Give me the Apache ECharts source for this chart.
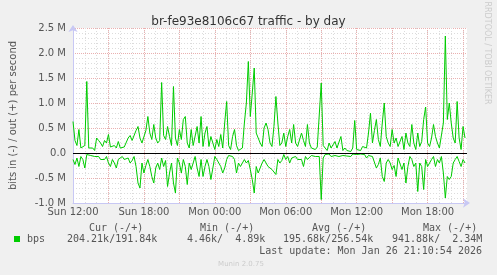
<!DOCTYPE html>
<html><head><meta charset="utf-8">
<script src="https://cdn.jsdelivr.net/npm/echarts@6/dist/echarts.min.js"></script>
<style>html,body{margin:0;padding:0;background:#f0f0f0}#c{width:497px;height:275px}</style>
</head><body><div id="c"></div>
<script>
// time axis: hours since Sun 12:00, one sample every 10 minutes
const stepHours = 1 / 6;
const xLabels = ['Sun 12:00', 'Sun 18:00', 'Mon 00:00', 'Mon 06:00', 'Mon 12:00', 'Mon 18:00'];
// out (+) in Mbit/s
const outBps = [
  0.63,0.25,0.15,0.47,0.1,0.1,0.15,1.43,0.1,0.06,
  0.1,0.05,0.3,0.25,0.2,0.13,0.25,0.2,0.37,0.12,
  0.1,0.15,0.1,0.23,0.1,0.08,0.12,0.1,0.3,0.35,
  0.25,0.27,0.45,0.53,0.3,0.2,0.2,0.45,0.73,0.4,
  0.27,0.57,0.3,0.2,0.25,1.41,0.35,0.27,0.53,0.33,
  0.15,1.33,0.3,0.15,0.47,0.27,0.67,0.73,0.2,0.1,
  0.47,0.15,0.12,0.53,0.2,0.73,0.13,0.4,0.53,0.13,
  0.33,0.2,0.07,0.27,0.13,0.37,0.1,0.6,1.03,0.15,
  0.07,0.33,0.47,0.15,0.05,0.03,0.1,0.6,1.0,1.83,
  0.73,1.2,1.7,0.4,0.3,0.2,0.13,0.5,0.6,0.47,
  0.2,0.13,0.53,1.13,0.6,0.15,0.2,0.4,0.13,0.33,
  0.47,0.2,0.57,0.2,0.13,0.15,0.4,0.25,0.13,0.57,
  0.2,0.1,0.1,0.07,0.12,0.15,1.4,0.15,0.1,0.05,
  0.2,0.1,0.07,0.23,0.1,0.1,0.33,0.05,0.1,0.05,
  0.08,0.03,0.1,0.65,0.07,0.1,0.05,0.13,0.15,0.1,
  0.4,0.8,0.2,0.45,0.67,0.27,0.13,0.6,1.0,0.33,
  0.2,0.13,0.47,0.2,0.3,0.13,0.15,0.33,0.07,0.4,
  0.2,0.13,0.57,0.2,0.07,0.4,0.13,0.23,0.67,0.92,
  0.2,0.13,0.3,0.57,0.33,0.2,0.1,0.07,0.6,2.34,
  0.67,1.0,0.6,0.3,0.2,1.03,0.3,0.07,0.53,0.3
];
// in (-) in Mbit/s (drawn negated)
const inBps = [
  0.13,0.23,0.1,0.27,0.07,0.13,0.3,0.03,0.03,0.05,
  0.02,0.07,0.03,0.07,0.13,0.1,0.13,0.07,0.2,0.27,
  0.13,0.2,0.3,0.13,0.13,0.07,0.13,0.1,0.1,0.2,
  0.15,0.07,0.27,0.6,0.7,0.2,0.4,0.25,0.13,0.27,
  0.47,0.6,0.3,0.2,0.33,0.1,0.27,0.15,0.67,0.4,
  0.2,0.6,0.8,0.1,0.2,0.4,0.13,0.27,0.63,0.2,
  0.33,0.2,0.07,0.3,0.47,0.13,0.47,0.27,0.13,0.27,
  0.53,0.3,0.07,0.13,0.2,0.27,0.4,0.3,0.13,0.05,
  0.03,0.07,0.13,0.4,0.2,0.27,0.2,0.13,0.2,0.15,
  0.33,0.53,0.8,0.27,0.4,0.3,0.2,0.13,0.13,0.27,
  0.27,0.33,0.3,0.43,0.13,0.2,0.15,0.03,0.13,0.07,
  0.2,0.1,0.13,0.07,0.13,0.1,0.13,0.27,0.07,0.13,
  0.1,0.05,0.02,0.07,0.03,0.07,0.93,0.1,0.03,0.05,
  0.02,0.07,0.03,0.05,0.02,0.07,0.03,0.05,0.02,0.06,
  0.03,0.07,0.02,0.05,0.03,0.07,0.02,0.05,0.03,0.1,
  0.05,0.02,0.07,0.1,0.3,0.23,0.1,0.47,0.57,0.2,
  0.13,0.2,0.33,0.25,0.47,0.1,0.13,0.33,0.2,0.6,
  0.27,0.07,0.13,0.27,0.2,0.77,0.2,0.27,0.73,0.13,
  0.27,0.2,0.13,0.07,0.27,0.13,0.2,0.07,0.4,0.9,
  0.47,0.53,0.47,0.2,0.13,0.07,0.17,0.27,0.13,0.2
];
const legendHeaders = ['Cur (-/+)', 'Min (-/+)', 'Avg (-/+)', 'Max (-/+)'];
const legendValues = ['204.21k/191.84k', '4.46k/  4.89k', '195.68k/256.54k', '941.88k/  2.34M'];
const seriesName = 'bps';
const lastUpdate = 'Last update: Mon Jan 26 21:10:54 2026';

const GREEN = '#00cc00';
const TXT = '#555555';
const MONO = '"DejaVu Sans Mono", monospace';
const SANS = '"DejaVu Sans", sans-serif';
const xMax = 400 / 12;

const chart = echarts.init(document.getElementById('c'), null, {renderer: 'canvas'});
const outData = outBps.map((v, i) => [i * stepHours, v]);
const inData = inBps.map((v, i) => [i * stepHours, -v]);

const headerX = [89, 200, 312, 423];
const valueX = [67, 187, 283, 392];
const graphics = [];
legendHeaders.forEach((t, i) => graphics.push({type: 'text', x: headerX[i], y: 228,
  style: {text: t, fill: TXT, font: '10px ' + MONO, textAlign: 'left', textVerticalAlign: 'middle'}}));
legendValues.forEach((t, i) => graphics.push({type: 'text', x: valueX[i], y: 239.5,
  style: {text: t, fill: TXT, font: '10px ' + MONO, textAlign: 'left', textVerticalAlign: 'middle'}}));
graphics.push({type: 'rect', shape: {x: 14, y: 236, width: 6, height: 6}, style: {fill: GREEN}});
graphics.push({type: 'text', x: 27, y: 239.5, style: {text: seriesName, fill: TXT, font: '10px ' + MONO, textAlign: 'left', textVerticalAlign: 'middle'}});
graphics.push({type: 'text', x: 482, y: 251, style: {text: lastUpdate, fill: TXT, font: '10px ' + MONO, textAlign: 'right', textVerticalAlign: 'middle'}});
graphics.push({type: 'text', x: 241, y: 264, style: {text: 'Munin 2.0.75', fill: '#cccccc', font: '7px ' + SANS, textAlign: 'center', textVerticalAlign: 'middle'}});
graphics.push({type: 'text', x: 487, y: 53, rotation: -Math.PI / 2, style: {text: 'RRDTOOL / TOBI OETIKER', fill: '#cccccc', font: '8px ' + SANS, textAlign: 'center', textVerticalAlign: 'middle'}});

chart.setOption({
  backgroundColor: '#f0f0f0',
  animation: false,
  title: {text: 'br-fe93e8106c67 traffic - by day', left: 'center', top: 11,
    textStyle: {fontFamily: SANS, fontSize: 12, fontWeight: 'normal', color: '#333333'}},
  grid: {left: 67, right: 30, top: 28, bottom: 72, show: true, backgroundColor: '#ffffff', borderWidth: 0},
  xAxis: [
    {type: 'value', position: 'bottom', min: 0, max: xMax, interval: 1, z: 0,
      axisLine: {show: false}, axisTick: {show: false}, axisLabel: {show: false},
      splitLine: {show: true, showMaxLine: false, showMinLine: false, lineStyle: {color: '#dcdcdc', type: [1, 2], width: 1}}},
    {type: 'value', position: 'bottom', min: 0, max: xMax, interval: 3, z: 1,
      axisLine: {show: true, onZero: false, symbol: ['none', 'arrow'], symbolSize: [7, 7], symbolOffset: [0, 3],
        lineStyle: {color: '#c8c8f4', width: 1}},
      axisTick: {show: false},
      axisLabel: {show: true, showMaxLabel: false, margin: 4, color: TXT, fontFamily: SANS, fontSize: 10,
        formatter: v => (Math.abs(v % 6) < 1e-6 ? (xLabels[Math.round(v / 6)] || '') : '')},
      splitLine: {show: true, showMaxLine: false, showMinLine: false, lineStyle: {color: '#eab0b0', type: [1, 1], width: 1}}}
  ],
  yAxis: {type: 'value', min: -1, max: 2.5, interval: 0.5,
    name: 'bits in (-) / out (+) per second', nameLocation: 'middle', nameGap: 55,
    nameTextStyle: {color: TXT, fontFamily: SANS, fontSize: 10},
    axisLine: {show: true, onZero: false, symbol: ['none', 'arrow'], symbolSize: [7, 7], symbolOffset: [0, 3],
      lineStyle: {color: '#c8c8f4', width: 1}},
    axisTick: {show: false},
    axisLabel: {margin: 7, color: TXT, fontFamily: SANS, fontSize: 10,
      formatter: v => (Math.abs(v) < 1e-9 ? '0.0' : v.toFixed(1) + ' M')},
    splitLine: {show: true, lineStyle: {color: '#eab0b0', type: [1, 1], width: 1}},
    minorTick: {show: false, splitNumber: 5},
    minorSplitLine: {show: true, lineStyle: {color: '#dcdcdc', type: [1, 2], width: 1}}},
  series: [
    {type: 'line', xAxisIndex: 1, data: outData, symbol: 'none', showSymbol: false,
      lineStyle: {color: GREEN, width: 1}, itemStyle: {color: GREEN},
      markLine: {silent: true, symbol: 'none', label: {show: false}, animation: false,
        lineStyle: {color: '#000000', type: 'solid', width: 1}, data: [{yAxis: 0}]}},
    {type: 'line', xAxisIndex: 1, data: inData, symbol: 'none', showSymbol: false,
      lineStyle: {color: GREEN, width: 1}, itemStyle: {color: GREEN}}
  ],
  graphic: graphics
});
</script></body></html>
